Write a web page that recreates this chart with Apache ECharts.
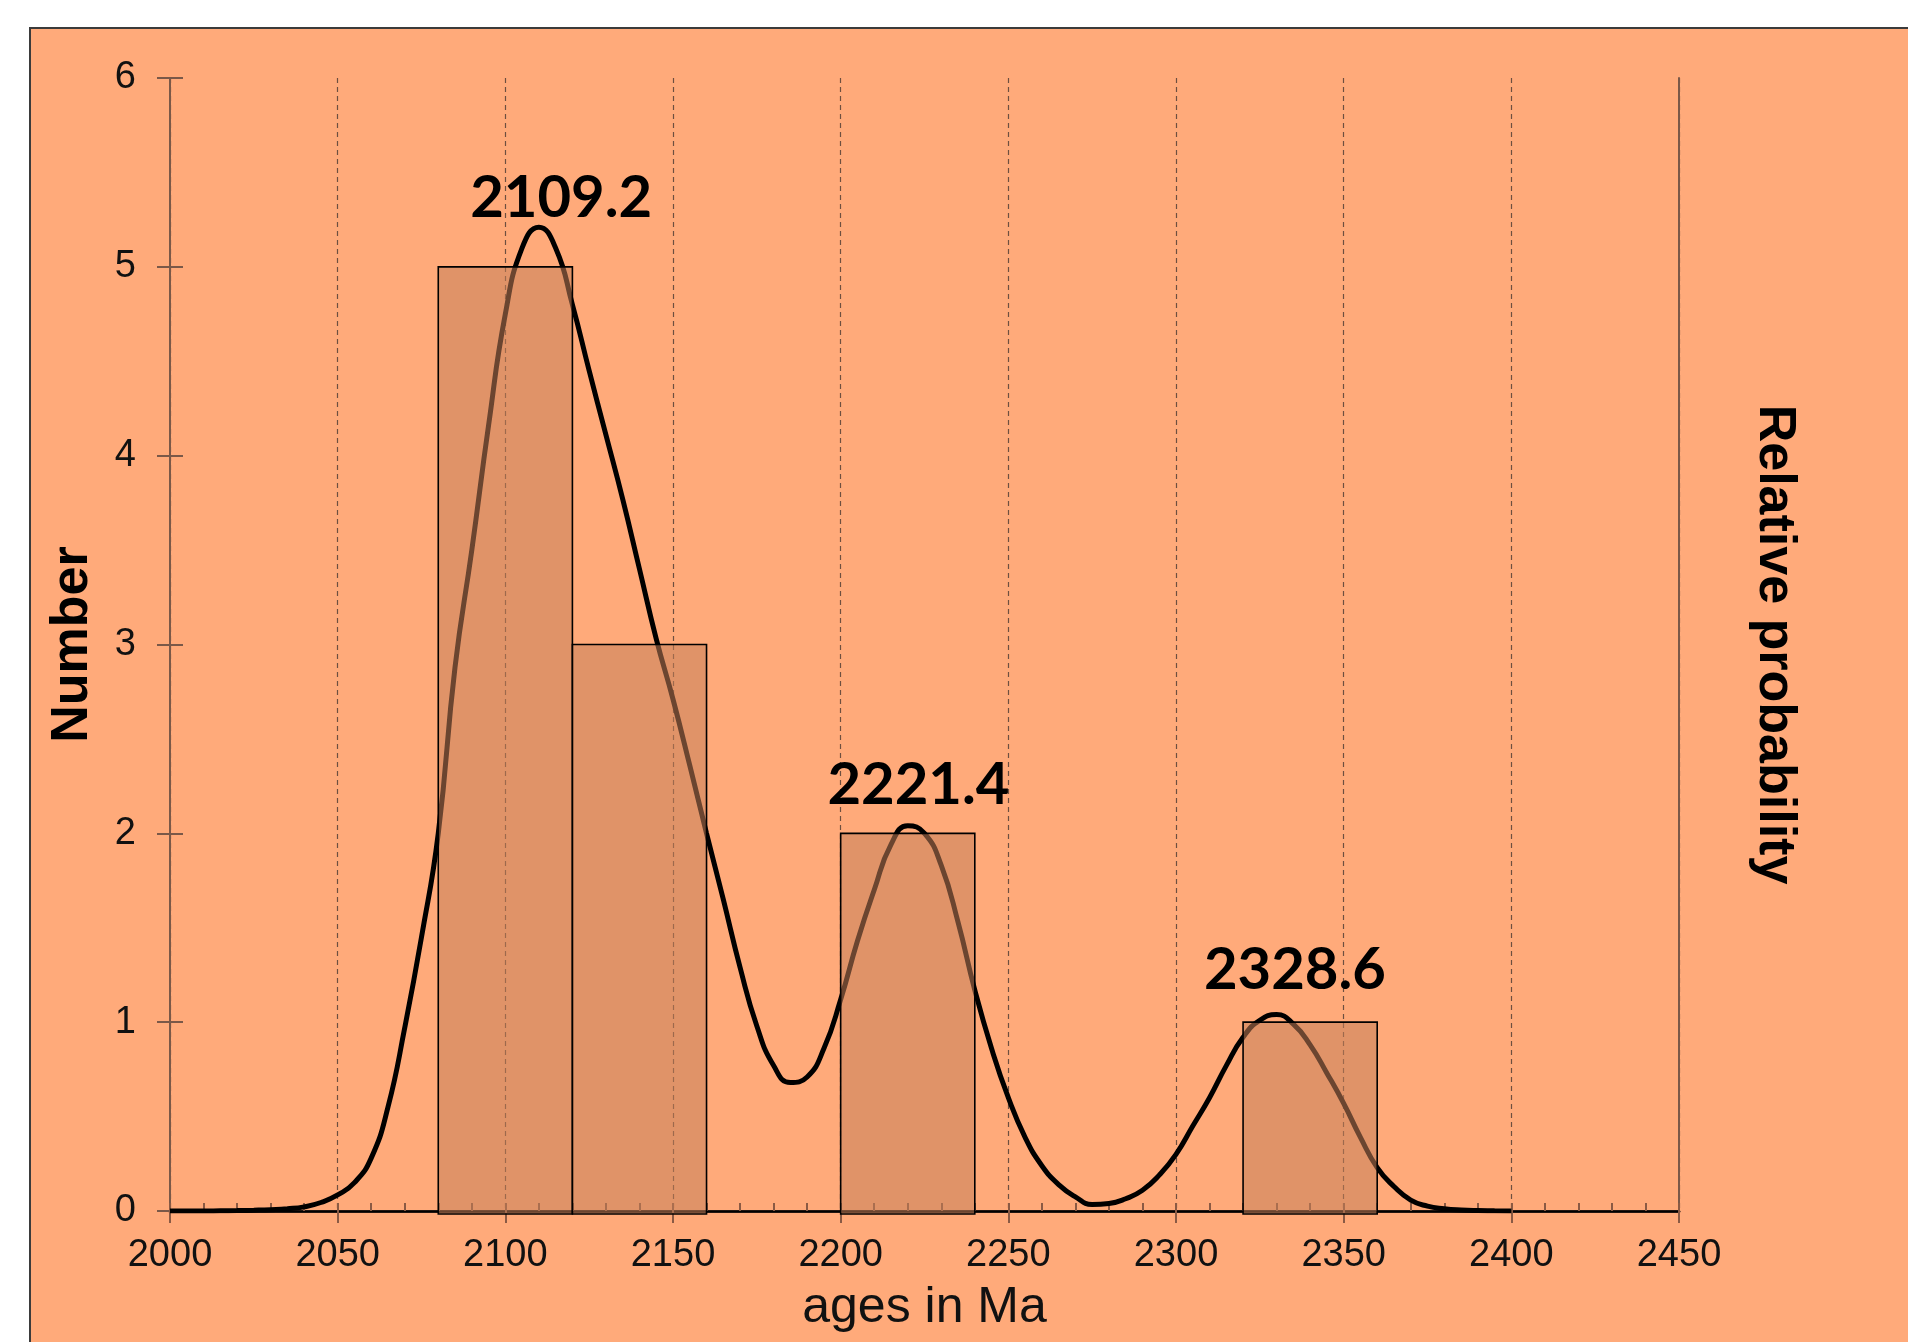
<!DOCTYPE html>
<html>
<head>
<meta charset="utf-8">
<script src="https://cdn.jsdelivr.net/npm/echarts/dist/echarts.min.js"></script>
<style>
html,body{margin:0;padding:0;background:#ffffff;width:1908px;height:1342px;overflow:hidden;}
#panel{position:absolute;left:29px;top:27px;width:1879px;height:1315px;background:#FFAA7A;border-left:2px solid #3b3b3b;border-top:2px solid #3b3b3b;box-sizing:border-box;}
#chart{position:absolute;left:0;top:0;width:1908px;height:1342px;}
</style>
</head>
<body>
<div id="panel"></div>
<div id="chart"></div>
<script>
// ---- data ----
const binStarts = [2080, 2120, 2200, 2320];
const binEnds   = [2120, 2160, 2240, 2360];
const binCounts = [5, 3, 2, 1];

const curveAges = [2000,2005,2010,2015,2020,2025,2030,2035,2040,2045,
  2050,2055,2060,2065,2070,2075,2080,2085,2090,2095,
  2100,2105,2110,2115,2120,2125,2130,2135,2140,2145,
  2150,2155,2160,2165,2170,2175,2180,2185,2190,2195,
  2200,2205,2210,2215,2220,2225,2230,2235,2240,2245,
  2250,2255,2260,2265,2270,2275,2280,2285,2290,2295,
  2300,2305,2310,2315,2320,2325,2330,2335,2340,2345,
  2350,2355,2360,2365,2370,2375,2380,2385,2390,2395,2400];
const curveValues = [0,0,0,0.001,0.002,0.004,0.007,0.012,0.022,0.045,
  0.085,0.15,0.28,0.55,0.97,1.45,2.0,2.88,3.5,4.16,
  4.75,5.1,5.21,5.1,4.8,4.45,4.11,3.77,3.4,3.03,
  2.71,2.36,2.0,1.65,1.29,0.98,0.77,0.68,0.71,0.86,
  1.12,1.43,1.7,1.94,2.04,2.0,1.83,1.53,1.17,0.86,
  0.6,0.39,0.24,0.14,0.075,0.035,0.04,0.065,0.11,0.19,
  0.3,0.45,0.6,0.77,0.92,1.01,1.04,0.99,0.88,0.73,
  0.57,0.39,0.23,0.13,0.058,0.026,0.012,0.005,0.002,0.001,0];

const peakAges    = [2109.2, 2221.4, 2328.6];
const peakHeights = [5.21, 2.04, 1.04];

const xMin = 2000, xMax = 2450, xStep = 50, xMinorStep = 10;
const yMin = 0, yMax = 6, yStep = 1;

// ---- styling ----
const peakLabelOffsets = [[25, 0], [6, -11], [23, -15]];
const axisBrown = '#8a5a44';
const lineBrown = '#7a5848';
const font = 'Liberation Sans, Arial, sans-serif';

const chart = echarts.init(document.getElementById('chart'), null, {renderer: 'canvas'});

const option = {
  backgroundColor: 'transparent',
  animation: false,
  grid: {left: 170, right: 229, top: 78, bottom: 131, containLabel: false},
  xAxis: [
    {
      type: 'value', position: 'bottom', min: xMin, max: xMax, interval: xStep,
      axisLine: {show: true, lineStyle: {color: axisBrown, width: 3}},
      axisTick: {show: true, inside: false, length: 12, lineStyle: {color: axisBrown, width: 2}},
      axisLabel: {show: true, fontSize: 38, fontFamily: font, color: '#111', margin: 26,
                  formatter: v => String(v)},
      splitLine: {show: true, lineStyle: {type: [5, 4], color: '#6d4f40', width: 1.2}},
      name: 'ages in Ma', nameLocation: 'middle', nameGap: 72,
      nameTextStyle: {fontSize: 50, fontFamily: font, color: '#111'}
    },
    {
      type: 'value', position: 'bottom', min: xMin, max: xMax, interval: xMinorStep,
      axisLine: {show: false},
      axisTick: {show: true, inside: true, length: 8, lineStyle: {color: axisBrown, width: 2}},
      axisLabel: {show: false},
      splitLine: {show: false}
    },
    {
      type: 'value', position: 'top', min: xMin, max: xMax, interval: xStep,
      axisLine: {show: true, lineStyle: {color: '#000', width: 2.5}},
      axisTick: {show: false}, axisLabel: {show: false}, splitLine: {show: false}
    }
  ],
  yAxis: [
    {
      type: 'value', position: 'left', min: yMin, max: yMax, interval: yStep,
      axisLine: {show: true, lineStyle: {color: lineBrown, width: 2}},
      axisTick: {show: true, inside: false, length: 13, lineStyle: {color: lineBrown, width: 2}},
      axisLabel: {show: true, fontSize: 38, fontFamily: font, color: '#111', margin: 34},
      splitLine: {show: false},
      name: 'Number', nameLocation: 'middle', nameGap: 71,
      nameTextStyle: {fontSize: 52, fontWeight: 'bold', fontFamily: font, color: '#000'}
    },
    {
      type: 'value', position: 'left', min: yMin, max: yMax, interval: yStep,
      axisLine: {show: false},
      axisTick: {show: true, inside: true, length: 13, lineStyle: {color: lineBrown, width: 2}},
      axisLabel: {show: false}, splitLine: {show: false}
    },
    {
      type: 'value', position: 'right', min: yMin, max: yMax, interval: yStep,
      axisLine: {show: true, lineStyle: {color: lineBrown, width: 2}},
      axisTick: {show: false}, axisLabel: {show: false}, splitLine: {show: false},
      name: 'Relative probability', nameLocation: 'middle', nameRotate: -90, nameGap: 69,
      nameTextStyle: {fontSize: 52, fontWeight: 'bold', fontFamily: font, color: '#000'}
    }
  ],
  series: [
    {
      type: 'line', xAxisIndex: 0, yAxisIndex: 0, z: 2,
      data: curveAges.map((a, i) => [a, curveValues[i]]),
      smooth: 0.5, showSymbol: false, symbol: 'none',
      lineStyle: {color: '#000', width: 5}
    },
    {
      type: 'custom', xAxisIndex: 0, yAxisIndex: 0, z: 3,
      data: binStarts.map((s, i) => [s, binEnds[i], binCounts[i]]),
      encode: {x: [0, 1], y: 2},
      renderItem: function (params, api) {
        const p0 = api.coord([api.value(0), api.value(2)]);
        const p1 = api.coord([api.value(1), 0]);
        return {
          type: 'rect',
          shape: {x: p0[0], y: p0[1], width: p1[0] - p0[0], height: p1[1] - p0[1] + 3},
          style: {fill: 'rgba(198,128,89,0.54)', stroke: '#000', lineWidth: 1.6}
        };
      }
    },
    {
      type: 'scatter', xAxisIndex: 0, yAxisIndex: 0, z: 5,
      symbolSize: 0,
      itemStyle: {opacity: 1},
      data: peakAges.map((a, i) => ({
        value: [a, peakHeights[i]],
        label: {offset: peakLabelOffsets[i]}
      })),
      label: {
        show: true, position: 'top', distance: 0,
        formatter: p => p.value[0].toFixed(1),
        fontSize: 58, fontWeight: 'bold', fontFamily: 'Lato, sans-serif', color: '#000', opacity: 1
      }
    }
  ]
};
chart.setOption(option);
</script>
</body>
</html>
